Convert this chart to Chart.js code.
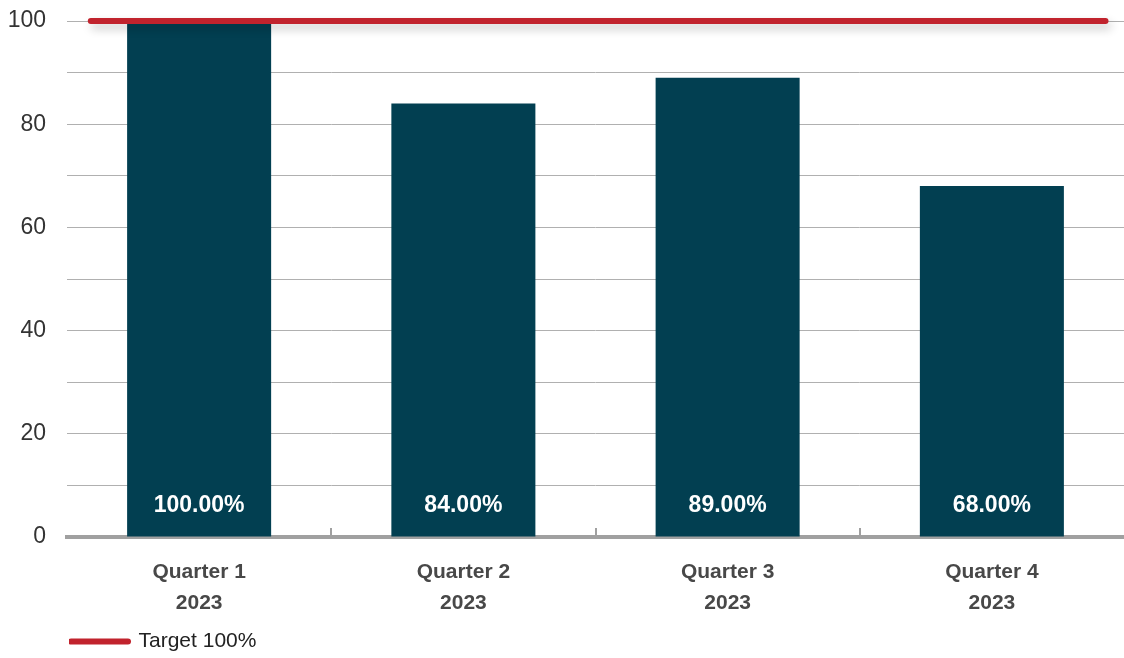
<!DOCTYPE html>
<html>
<head>
<meta charset="utf-8">
<script src="https://cdn.jsdelivr.net/npm/chart.js@4.4.1/dist/chart.umd.min.js"></script>
<style>
  html, body { margin: 0; padding: 0; background: #fff; }
  #wrap { width: 1124px; height: 658px; }
</style>
</head>
<body>
<div id="wrap"><canvas id="chart"></canvas></div>
<script>
  // chart data
  const categories = [['Quarter 1', '2023'], ['Quarter 2', '2023'], ['Quarter 3', '2023'], ['Quarter 4', '2023']];
  const actualValues = [100, 84, 89, 68];
  const targetLabel = 'Target 100%';
  const targetValue = 100;
  const targetSpan = [-0.41, 3.43]; // target line runs a bit past the outer bars (category units)
  const yMin = 0, yMax = 100, yStep = 10, yLabelEvery = 20;

  const FONT = "'Liberation Sans', Arial, sans-serif";
  const BAR = '#023f51';
  const RED = '#c1232d';

  // white % labels near the bottom of each bar
  const barLabels = {
    id: 'barLabels',
    afterDatasetsDraw(chart) {
      const meta = chart.getDatasetMeta(0);
      const ctx = chart.ctx;
      ctx.save();
      ctx.fillStyle = '#fff';
      ctx.font = 'bold 23px ' + FONT;
      ctx.textAlign = 'center';
      ctx.textBaseline = 'middle';
      meta.data.forEach((bar, i) => {
        ctx.fillText(actualValues[i].toFixed(2) + '%', bar.x, chart.chartArea.bottom - 31);
      });
      ctx.restore();
    }
  };

  // small tick marks between categories, sitting on top of the axis line
  const betweenTicks = {
    id: 'betweenTicks',
    afterDatasetsDraw(chart) {
      const x = chart.scales.x;
      const ctx = chart.ctx;
      const bottom = chart.chartArea.bottom;
      ctx.save();
      ctx.strokeStyle = '#a0a0a0';
      ctx.lineWidth = 2;
      for (let i = 1; i < categories.length; i++) {
        const px = Math.round((x.getPixelForValue(i - 1) + x.getPixelForValue(i)) / 2);
        ctx.beginPath();
        ctx.moveTo(px, bottom);
        ctx.lineTo(px, bottom - 9);
        ctx.stroke();
      }
      ctx.restore();
    }
  };

  // soft shadow under the target line, legend nudged into place
  const lineShadow = {
    id: 'lineShadow',
    beforeDatasetDraw(chart, args) {
      if (args.index !== 1) return;
      const ctx = chart.ctx;
      ctx.save();
      ctx.shadowColor = 'rgba(0,0,0,0.22)';
      ctx.shadowBlur = 10;
      ctx.shadowOffsetY = 5;
      ctx.shadowOffsetX = 3;
    },
    afterDatasetDraw(chart, args) {
      if (args.index !== 1) return;
      chart.ctx.restore();
    },
    afterLayout(chart) {
      if (!chart.legend) return;
      chart.legend.left = 69;
      chart.legend.top += 4;
    }
  };

  new Chart(document.getElementById('chart'), {
    type: 'bar',
    data: {
      labels: categories,
      datasets: [
        {
          type: 'bar',
          label: 'Actual',
          data: actualValues,
          backgroundColor: BAR,
          barPercentage: 0.545,
          categoryPercentage: 1,
          grouped: false,
          order: 2
        },
        {
          type: 'line',
          label: targetLabel,
          data: targetSpan.map(x => ({ x: x, y: targetValue })),
          xAxisID: 'x2',
          borderColor: RED,
          backgroundColor: RED,
          borderWidth: 6,
          borderCapStyle: 'round',
          pointRadius: 0,
          clip: false,
          order: 1
        }
      ]
    },
    options: {
      responsive: true,
      maintainAspectRatio: false,
      animation: false,
      layout: { padding: { top: 21, right: 0, bottom: 0, left: 0 } },
      scales: {
        x: {
          type: 'category',
          offset: true,
          grid: { display: false, drawTicks: false },
          border: { display: true, color: '#a0a0a0', width: 4 },
          ticks: { color: '#484848', font: { family: FONT, size: 21, weight: 'bold', lineHeight: 1.5 }, padding: 19 },
          afterFit(scale) { scale.height = 88; }
        },
        x2: {
          type: 'linear',
          display: false,
          offset: false,
          min: -0.5,
          max: categories.length - 0.5
        },
        y: {
          min: yMin,
          max: yMax,
          border: { display: false },
          grid: { color: '#b0b0b0', lineWidth: 1, drawTicks: false },
          ticks: {
            stepSize: yStep,
            padding: 21,
            color: '#333',
            font: { family: FONT, size: 23 },
            callback: v => (v % yLabelEvery === 0 ? v : '')
          },
          afterFit(scale) { scale.width = 67; scale.paddingTop = 0; }
        }
      },
      plugins: {
        tooltip: { enabled: false },
        legend: {
          position: 'bottom',
          align: 'start',
          labels: {
            generateLabels: chart => Chart.defaults.plugins.legend.labels.generateLabels(chart)
              .filter(item => item.datasetIndex === 1)
              .map(item => Object.assign(item, { lineCap: 'round', lineWidth: 6, strokeStyle: RED })),
            usePointStyle: true,
            pointStyle: 'line',
            pointStyleWidth: 57,
            padding: 2,
            color: '#222',
            font: { family: FONT, size: 21 }
          }
        }
      }
    },
    plugins: [barLabels, betweenTicks, lineShadow]
  });
</script>
</body>
</html>
